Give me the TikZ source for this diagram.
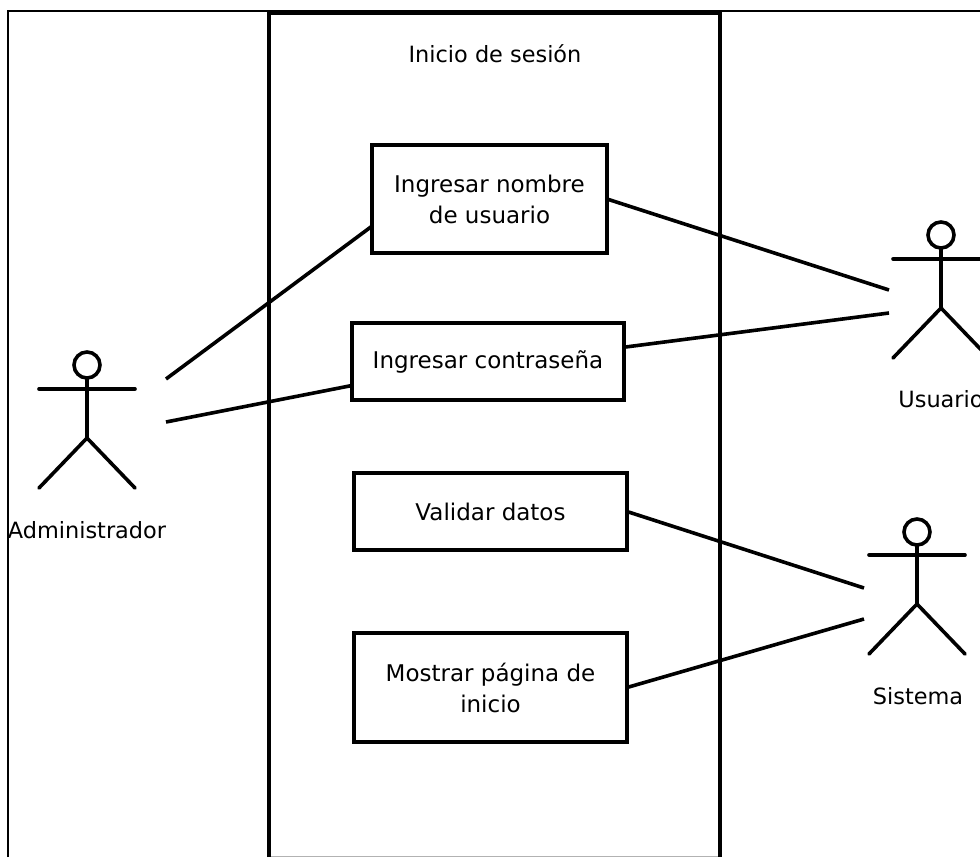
\documentclass[tikz,border=0pt]{standalone}
\usepackage{fontspec}
\setmainfont{DejaVu Sans}
\begin{document}
\begin{tikzpicture}[x=1pt,y=-1pt,
  box/.style={draw,line width=3.6pt,fill=white,outer sep=0pt,inner sep=0pt,align=center,font=\fontsize{23}{31}\selectfont},
  lab/.style={font=\fontsize{22.4}{28}\selectfont,inner sep=0pt},
  link/.style={line width=3.6pt},
  limb/.style={line width=3.6pt,line cap=round},
  head/.style={circle,draw,line width=3.6pt,minimum size=26pt,inner sep=0pt,outer sep=0pt}]
\useasboundingbox (0,0) rectangle (980,857);
\clip (0,0) rectangle (980,857);
\fill[white] (0,0) rectangle (980,857);
% frame
\draw[line width=2.6pt] (8,857) -- (8,11) -- (980,11);
\draw[line width=1pt,black!30] (269,856.5) -- (720,856.5);
% system boundary
\draw[line width=3.6pt] (269,857) -- (269,13) -- (720,13) -- (720,857);
\draw[line width=4pt] (269,13) -- (720,13);
\node[lab] (title) at (495,54) {Inicio de sesión};
% use cases
\node[box,minimum width=235pt,minimum height=108pt] (a) at (489.5,199) {Ingresar nombre\\de usuario};
\node[box,minimum width=272pt,minimum height=77pt] (b) at (488,361.5) {Ingresar contraseña};
\node[box,minimum width=273pt,minimum height=77pt] (c) at (490.5,511.5) {Validar datos};
\node[box,minimum width=273pt,minimum height=109pt] (d) at (490.5,687.5) {Mostrar página de\\inicio};
% actors
\node[head] (adm) at (87,365) {};
\coordinate (admhip) at (87,438);
\draw[limb] (adm.south) -- (admhip);
\draw[limb] (39,389) -- (135,389);
\draw[limb] (39,488) -- (admhip) -- (135,488);
\node[lab] (admlab) at (87,530) {Administrador};
\node[head] (usu) at (941,235) {};
\coordinate (usuhip) at (941,308);
\draw[limb] (usu.south) -- (usuhip);
\draw[limb] (893,259) -- (989,259);
\draw[limb] (893,358) -- (usuhip) -- (989,358);
\node[lab] (usulab) at (941,399) {Usuario};
\node[head] (sis) at (917,532) {};
\coordinate (siship) at (917,604);
\draw[limb] (sis.south) -- (siship);
\draw[limb] (869,555) -- (965,555);
\draw[limb] (869,654) -- (siship) -- (965,654);
\node[lab] (sislab) at (918,696) {Sistema};
% connectors
\coordinate (e1) at (166,379);
\coordinate (e2) at (166,422);
\coordinate (e3) at (889,290);
\coordinate (e4) at (889,313);
\coordinate (e5) at (864,588);
\coordinate (e6) at (864,619);
\draw[link] (a.193.4) -- (e1);
\draw[link] (b.190.6) -- (e2);
\draw[link] (a.-0.5) -- (e3);
\draw[link] (b.6.9) -- (e4);
\draw[link] (c.-0.6) -- (e5);
\draw[link] (d.0) -- (e6);
\end{tikzpicture}
\end{document}
